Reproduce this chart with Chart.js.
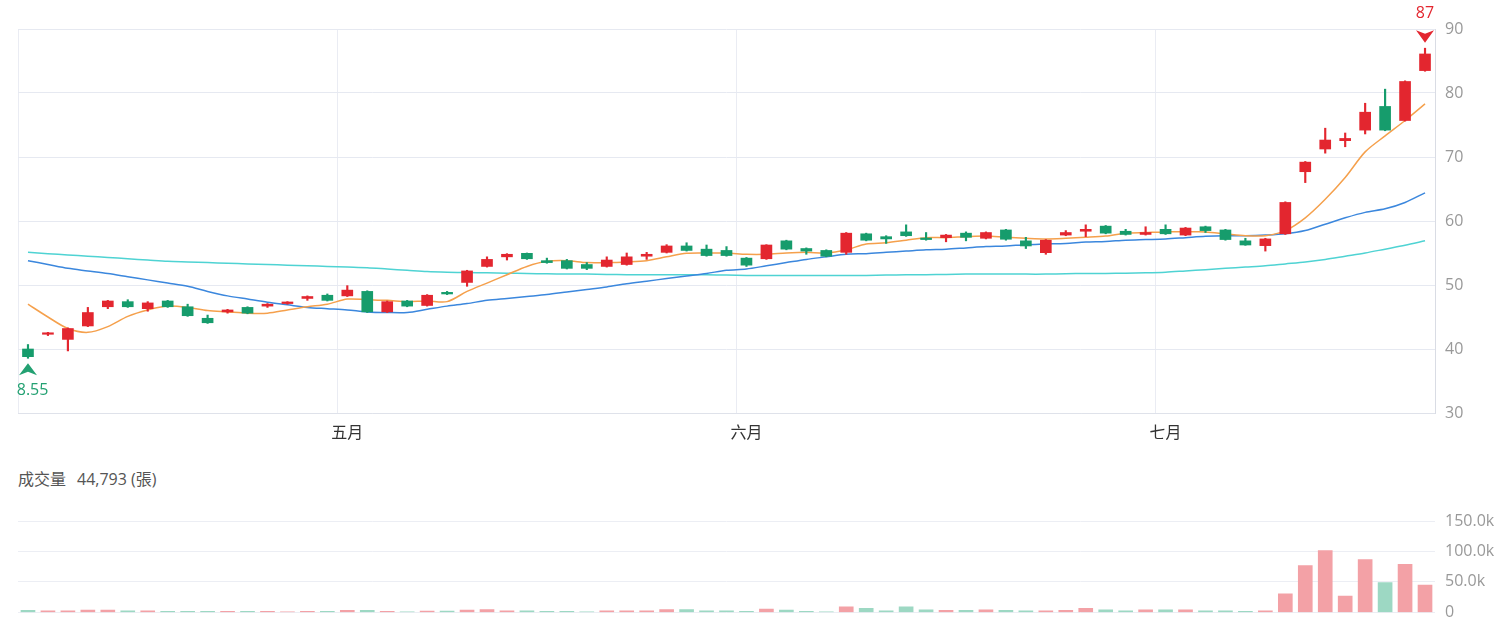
<!DOCTYPE html>
<html>
<head>
<meta charset="utf-8">
<script src="https://cdn.jsdelivr.net/npm/chart.js@4.4.1/dist/chart.umd.min.js"></script>
<style>
  html, body { margin: 0; padding: 0; background: #fff; }
  #wrap { position: relative; width: 1500px; height: 632px; overflow: hidden; font-family: "Open Sans", "Noto Sans CJK TC", sans-serif; }
  #priceBox { position: absolute; left: 0; top: 0; width: 1500px; height: 450px; }
  #volBox { position: absolute; left: 0; top: 490px; width: 1500px; height: 142px; }
  #volTitle { position: absolute; left: 18px; top: 467px; font-size: 16px; color: #555; line-height: 24px; white-space: nowrap; }
  #volTitle span { margin-left: 11px; }
</style>
</head>
<body>
<div id="wrap">
  <div id="priceBox"><canvas id="price" width="1500" height="450"></canvas></div>
  <div id="volTitle">成交量<span>44,793 (張)</span></div>
  <div id="volBox"><canvas id="volume" width="1500" height="142"></canvas></div>
</div>
<script>
// --- Data ---
const opens = [40.0, 42.3, 41.5, 43.6, 46.6, 47.4, 46.3, 47.5, 46.6, 44.8,
  45.8, 46.5, 46.7, 47.1, 47.9, 48.4, 48.3, 49.0, 45.8, 47.5,
  46.8, 48.85, 50.4, 52.9, 54.4, 54.95, 53.8, 53.8, 53.2, 52.9,
  53.2, 54.5, 55.1, 56.1, 55.6, 55.4, 54.2, 54.1, 56.9, 55.7,
  55.4, 55.1, 58.0, 57.55, 58.3, 57.3, 57.4, 58.1, 57.3, 58.6,
  56.9, 55.05, 57.8, 58.4, 59.2, 58.4, 57.9, 58.7, 57.8, 59.1,
  58.6, 56.9, 56.15, 58.0, 67.7, 71.25, 72.55, 74.2, 77.9, 75.7, 83.5];
const highs = [40.7, 42.6, 43.3, 46.5, 47.6, 47.7, 47.4, 47.6, 47.0, 45.3,
  46.2, 46.6, 47.1, 47.4, 48.3, 48.6, 49.9, 49.1, 47.5, 47.6,
  48.5, 49.0, 52.3, 54.4, 54.9, 55.0, 54.2, 54.0, 53.5, 54.4,
  55.0, 55.1, 56.3, 56.6, 56.25, 56.0, 54.3, 56.3, 57.0, 55.8,
  55.5, 58.2, 58.1, 57.7, 59.4, 58.2, 57.9, 58.3, 58.3, 58.7,
  57.45, 57.1, 58.5, 59.4, 59.3, 58.7, 59.1, 59.4, 59.0, 59.2,
  58.7, 57.3, 57.3, 63.0, 69.3, 74.5, 73.75, 78.4, 80.6, 81.9, 87.0];
const lows = [38.55, 42.1, 39.7, 43.5, 46.3, 46.5, 45.9, 46.5, 45.1, 44.0,
  45.6, 45.5, 46.5, 47.0, 47.6, 47.5, 48.2, 45.7, 45.7, 46.6,
  46.7, 48.5, 49.8, 52.8, 53.9, 54.0, 53.4, 52.5, 52.4, 52.8,
  53.1, 54.0, 55.0, 55.3, 54.5, 54.5, 52.9, 54.0, 55.5, 54.8,
  54.4, 54.8, 56.9, 56.5, 57.6, 57.0, 56.75, 56.9, 57.2, 57.0,
  55.7, 54.8, 57.7, 57.55, 58.0, 57.8, 57.8, 57.9, 57.7, 58.2,
  57.0, 56.2, 55.3, 57.9, 66.0, 70.6, 71.6, 73.6, 74.1, 75.6, 83.4];
const closes = [38.8, 42.5, 43.2, 45.7, 47.5, 46.6, 47.2, 46.6, 45.2, 44.1,
  46.1, 45.6, 47.0, 47.35, 48.2, 47.6, 49.2, 45.8, 47.4, 46.7,
  48.4, 48.6, 52.2, 54.0, 54.8, 54.1, 53.5, 52.6, 52.6, 53.9,
  54.4, 54.8, 56.1, 55.4, 54.6, 54.6, 53.1, 56.25, 55.6, 55.3,
  54.5, 58.1, 57.0, 57.2, 57.7, 57.1, 57.8, 57.45, 58.2, 57.15,
  56.1, 57.0, 58.2, 58.7, 58.1, 57.9, 58.2, 58.0, 58.9, 58.5,
  57.1, 56.25, 57.2, 62.9, 69.2, 72.65, 72.9, 77.0, 74.2, 81.8, 86.1];
const volumes = [3200, 2600, 2600, 3700, 3700, 2600, 2600, 1600, 1600, 1600,
  1600, 1600, 1600, 1000, 1600, 1600, 3200, 3200, 1600, 1000,
  2100, 2100, 3700, 4700, 2600, 2600, 1600, 1600, 1000, 2600,
  2600, 2600, 4700, 4700, 2600, 2600, 1600, 5300, 3700, 1600,
  1000, 9000, 6800, 2600, 9000, 4200, 3200, 3200, 4200, 3200,
  2600, 2600, 3200, 6800, 4200, 2600, 4200, 4200, 4200, 2600,
  2600, 1600, 2600, 30500, 76800, 101600, 26800, 86800, 49000, 79000, 44793];
const ma5 = [47.0, 45.0, 43.2, 42.6, 43.5, 45.1, 46.1, 46.7, 46.5, 46.0,
  45.8, 45.6, 45.6, 46.1, 46.6, 47.0, 47.8, 47.7, 47.6, 47.4,
  47.5, 47.4, 49.0, 50.3, 51.6, 52.9, 53.7, 53.8, 53.5, 53.5,
  53.6, 53.8, 54.4, 54.95, 55.0, 55.0, 54.8, 54.8, 55.0, 55.1,
  55.0, 55.5, 56.4, 56.6, 57.0, 57.4, 57.4, 57.55, 57.65, 57.45,
  57.3, 57.2, 57.3, 57.45, 57.65, 58.1, 58.2, 58.3, 58.3, 58.3,
  58.0, 57.7, 57.7, 58.5, 60.5, 63.4, 66.8, 70.8, 73.3, 75.7, 78.3];
const ma20 = [53.8, 53.2, 52.6, 52.2, 51.8, 51.3, 50.8, 50.3, 49.8, 49.0,
  48.3, 47.8, 47.3, 46.9, 46.5, 46.3, 46.1, 45.8, 45.7, 45.7,
  46.2, 46.7, 47.1, 47.6, 47.9, 48.2, 48.5, 48.9, 49.3, 49.7,
  50.2, 50.6, 51.0, 51.4, 51.8, 52.3, 52.5, 53.0, 53.5, 54.0,
  54.4, 54.8, 54.9, 55.1, 55.3, 55.5, 55.6, 55.8, 56.0, 56.1,
  56.3, 56.4, 56.5, 56.7, 56.8, 57.0, 57.1, 57.2, 57.4, 57.6,
  57.7, 57.7, 57.8, 58.0, 58.5, 59.5, 60.5, 61.35, 61.9, 62.9, 64.4];
const ma60 = [55.1, 54.9, 54.7, 54.5, 54.3, 54.1, 53.9, 53.7, 53.6, 53.5,
  53.4, 53.3, 53.2, 53.1, 53.0, 52.9, 52.8, 52.7, 52.5, 52.3,
  52.1, 52.0, 51.95, 51.9, 51.85, 51.8, 51.75, 51.7, 51.7, 51.65,
  51.6, 51.6, 51.6, 51.6, 51.6, 51.55, 51.5, 51.5, 51.5, 51.5,
  51.5, 51.5, 51.5, 51.55, 51.6, 51.6, 51.65, 51.7, 51.7, 51.7,
  51.7, 51.7, 51.75, 51.8, 51.8, 51.85, 51.9, 52.0, 52.2, 52.4,
  52.6, 52.8, 53.0, 53.3, 53.6, 54.0, 54.5, 55.0, 55.6, 56.2, 56.9];
const monthTicks = [16, 36, 57];
const monthNames = ['五月', '六月', '七月'];

const UP = '#e3262f';
const DOWN = '#169c6c';
const labels = opens.map((_, i) => i);
const candleColors = opens.map((o, i) => closes[i] >= o ? UP : DOWN);
const volColors = opens.map((o, i) => closes[i] >= o ? '#f3a1a6' : '#9dd8c3');

const NUM_FONT = '"Open Sans", "Noto Sans CJK TC", sans-serif';
const CJK_FONT = '"Noto Sans CJK TC", "Open Sans", sans-serif';
Chart.defaults.font.family = NUM_FONT;

// markers for highest high / lowest low
const extremeMarks = {
    id: 'extremeMarks',
    afterDatasetsDraw(chart) {
        const { ctx, scales: { x, y } } = chart;
        const hiIdx = highs.indexOf(Math.max(...highs));
        const loIdx = lows.indexOf(Math.min(...lows));

        ctx.save();
        ctx.font = '16px ' + NUM_FONT;
        ctx.textAlign = 'center';
        ctx.textBaseline = 'middle';

        const hx = x.getPixelForValue(hiIdx), hy = y.getPixelForValue(highs[hiIdx]);
        ctx.fillStyle = UP;
        ctx.beginPath();
        ctx.moveTo(hx, hy - 5.5);
        ctx.lineTo(hx - 9, hy - 18);
        ctx.lineTo(hx, hy - 14.5);
        ctx.lineTo(hx + 9, hy - 18);
        ctx.closePath();
        ctx.fill();
        ctx.fillText(String(highs[hiIdx]), hx, hy - 35);

        const lx = x.getPixelForValue(loIdx), ly = y.getPixelForValue(lows[loIdx]);
        ctx.fillStyle = '#23a172';
        ctx.beginPath();
        ctx.moveTo(lx, ly + 5);
        ctx.lineTo(lx + 9, ly + 17);
        ctx.lineTo(lx, ly + 13.5);
        ctx.lineTo(lx - 9, ly + 17);
        ctx.closePath();
        ctx.fill();
        // label gets cut at the left edge like the original
        ctx.beginPath();
        ctx.rect(chart.chartArea.left - 2, 0, chart.width, chart.height);
        ctx.clip();
        ctx.fillText(String(lows[loIdx]), lx, ly + 32);
        ctx.restore();
    }
};

// --- Price chart ---
new Chart(document.getElementById('price'), {
    data: {
        labels: labels,
        datasets: [
            { type: 'bar', label: 'body', data: opens.map((o, i) => [Math.min(o, closes[i]), Math.max(o, closes[i])]),
              backgroundColor: candleColors, barThickness: 11, minBarLength: 1.5, order: 0 },
            { type: 'bar', label: 'wick', data: lows.map((l, i) => [l, highs[i]]),
              backgroundColor: candleColors, barThickness: 1.5, order: 1 },
            { type: 'line', label: 'MA5', data: ma5, borderColor: '#f5a04c', borderWidth: 1.5, pointRadius: 0, tension: 0.3, order: 2 },
            { type: 'line', label: 'MA20', data: ma20, borderColor: '#3b87dd', borderWidth: 1.5, pointRadius: 0, tension: 0.3, order: 3 },
            { type: 'line', label: 'MA60', data: ma60, borderColor: '#4fd3d3', borderWidth: 1.5, pointRadius: 0, tension: 0.3, order: 4 }
        ]
    },
    options: {
        responsive: false,
        animation: false,
        layout: { padding: { left: 18, top: 29, right: 0, bottom: 0 } },
        plugins: { legend: { display: false }, tooltip: { enabled: false } },
        datasets: { bar: { grouped: false } },
        scales: {
            x: {
                offset: true,
                grid: {
                    offset: true,
                    drawTicks: false,
                    color: c => (c.type === 'tick' && (c.index === 0 || monthTicks.includes(c.index))) ? '#eaecf3' : 'rgba(0,0,0,0)'
                },
                border: { color: '#dfe2ea' },
                ticks: {
                    autoSkip: false, maxRotation: 0, padding: 9, color: '#333',
                    font: { size: 16, family: CJK_FONT },
                    callback: (v, i) => { const k = monthTicks.indexOf(i); return k >= 0 ? monthNames[k] : ''; }
                },
                afterFit: s => { s.height = 37; }
            },
            y: {
                position: 'right', min: 30, max: 90,
                ticks: { stepSize: 10, padding: 10, color: '#999', font: { size: 16 } },
                grid: { color: '#e6e9f1', drawTicks: false },
                border: { color: '#d9dce4' },
                afterFit: s => { s.width = 65; }
            }
        }
    },
    plugins: [extremeMarks]
});

// --- Volume chart ---
new Chart(document.getElementById('volume'), {
    type: 'bar',
    data: {
        labels: labels,
        datasets: [{ label: '成交量', data: volumes, backgroundColor: volColors, barThickness: 14 }]
    },
    options: {
        responsive: false,
        animation: false,
        layout: { padding: { left: 18, top: 31, right: 0, bottom: 18 } },
        plugins: { legend: { display: false }, tooltip: { enabled: false } },
        scales: {
            x: { display: false, offset: true },
            y: {
                position: 'right', min: 0, max: 150000,
                ticks: {
                    stepSize: 50000, padding: 10, color: '#999', font: { size: 16 },
                    callback: v => v === 0 ? '0' : (v / 1000).toFixed(1) + 'k'
                },
                grid: { color: '#eceef4', drawTicks: false },
                border: { display: false },
                afterFit: s => { s.width = 65; }
            }
        }
    }
});
</script>
</body>
</html>
